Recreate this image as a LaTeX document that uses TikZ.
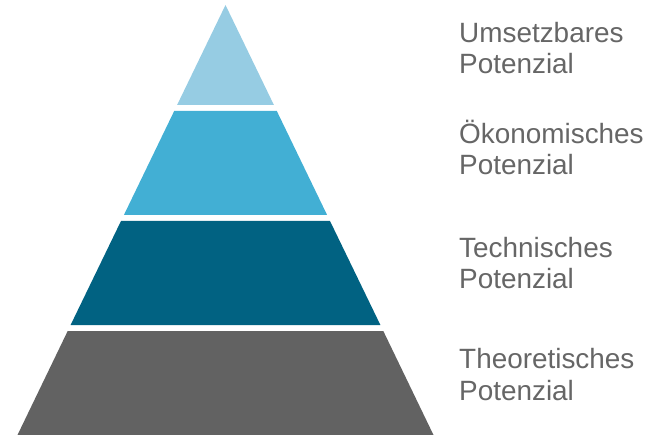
\documentclass[tikz,border=0pt]{standalone}
\usepackage{fontspec}
\setmainfont{Liberation Sans}
\definecolor{lvA}{HTML}{96CCE3}
\definecolor{lvB}{HTML}{42AFD4}
\definecolor{lvC}{HTML}{016282}
\definecolor{lvD}{HTML}{626262}
\definecolor{lbl}{HTML}{666666}
\begin{document}
\begin{tikzpicture}[x=1bp,y=-1bp,
  lab/.style={anchor=base west,inner sep=0pt,align=left,text=lbl,font=\fontsize{28}{32}\selectfont}]
\useasboundingbox (0,0) rectangle (659,435);
% apex (225.5,5), base half-width 208 at y=435
\fill[lvA] (225.5,5) -- (273.9,105) -- (177.1,105) -- cycle;
\fill[lvB] (174.2,111) -- (276.8,111) -- (327.1,215) -- (123.9,215) -- cycle;
\fill[lvC] (121.0,221) -- (330.0,221) -- (380.4,325) -- (70.6,325) -- cycle;
\fill[lvD] (67.7,331) -- (383.3,331) -- (433.5,435) -- (17.5,435) -- cycle;
\node[lab] (l1) at (459,74) {Umsetzbares\\Potenzial};
\node[lab] (l2) at (459,175) {Ökonomisches\\Potenzial};
\node[lab] (l3) at (459,289) {Technisches\\Potenzial};
\node[lab] (l4) at (459,400) {Theoretisches\\Potenzial};
\end{tikzpicture}
\end{document}
